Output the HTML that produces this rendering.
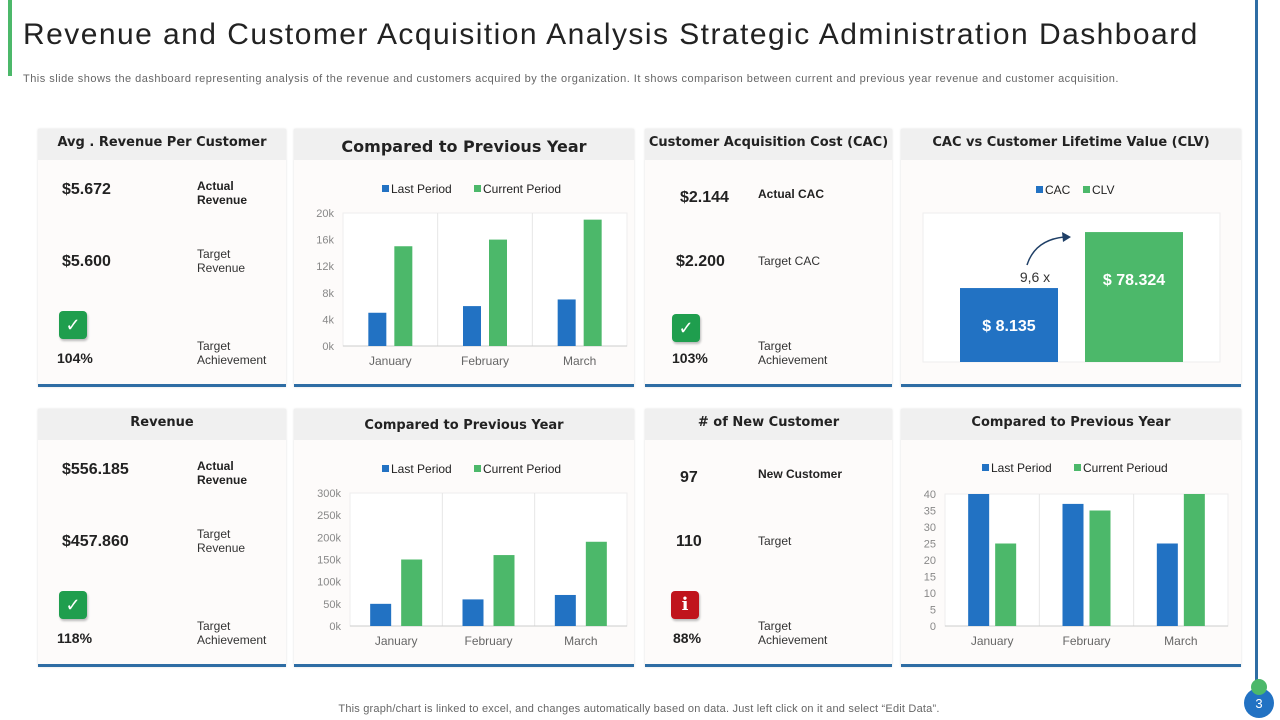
<!DOCTYPE html>
<html><head><meta charset="utf-8">
<style>
body{margin:0;width:1280px;height:720px;background:#fff;position:relative;overflow:hidden;font-family:"Liberation Sans",Arial,sans-serif;color:#222}
.abs{position:absolute}
.card{position:absolute;background:#fdfbfa;border-bottom:3px solid #2e6da4;box-shadow:0 0 2px #ddd}
.hdr{position:absolute;left:0;top:0;right:0;height:31px;background:#f0f0f0;font-family:"DejaVu Sans",sans-serif;font-weight:bold;font-size:13px;text-align:center;line-height:28px;color:#222}
.big{position:absolute;font-weight:bold;font-size:16px;color:#222}
.lbl{position:absolute;font-size:12px;line-height:14px;color:#333}
.lbl.b{font-weight:bold;color:#222}
.chk{position:absolute;width:28px;height:28px;border-radius:4px;background:#1f9e4e;color:#fff;font-size:18px;text-align:center;line-height:28px;box-shadow:1px 2px 2px #bbb}
svg text{font-family:"Liberation Sans",Arial,sans-serif}
</style></head><body>
<div class="abs" style="left:8px;top:0;width:4px;height:76px;background:#4cb86a"></div>
<div class="abs" style="left:23px;top:18px;font-size:30px;letter-spacing:1.45px;color:#222;white-space:nowrap">Revenue and Customer Acquisition Analysis Strategic Administration Dashboard</div>
<div class="abs" style="left:23px;top:73px;font-size:11px;letter-spacing:0.48px;color:#666;white-space:nowrap">This slide shows the dashboard representing analysis of the revenue and customers acquired by the organization. It shows comparison between current and previous year revenue and customer acquisition.</div>
<div class="abs" style="left:1255px;top:0;width:3px;height:690px;background:#2e6da4"></div>
<div class="abs" style="left:1244px;top:688px;width:30px;height:30px;border-radius:50%;background:#2272c3;color:#fff;font-size:13px;text-align:center;line-height:32px">3</div>
<div class="abs" style="left:1251px;top:679px;width:16px;height:16px;border-radius:50%;background:#4cb86a"></div>
<div class="abs" style="left:0;width:1278px;top:703px;text-align:center;font-size:11px;letter-spacing:0.2px;color:#666">This graph/chart is linked to excel,  and changes automatically based on data. Just left click on it and select “Edit Data”.</div>

<div class="card" style="left:38px;top:129px;width:248px;height:255px">
<div class="hdr">Avg . Revenue Per Customer</div>
<div class="big" style="left:24px;top:52px">$5.672</div>
<div class="lbl b" style="left:159px;top:50px">Actual<br>Revenue</div>
<div class="big" style="left:24px;top:124px">$5.600</div>
<div class="lbl" style="left:159px;top:118px">Target<br>Revenue</div>
<div class="chk" style="left:21px;top:182px">✓</div>
<div class="big" style="left:19px;top:221px;font-size:14px">104%</div>
<div class="lbl" style="left:159px;top:210px">Target<br>Achievement</div>
</div>

<div class="card" style="left:294px;top:129px;width:340px;height:255px">
<div class="hdr" style="font-size:16px;line-height:36px">Compared to Previous Year</div>
</div>

<div class="card" style="left:645px;top:129px;width:247px;height:255px">
<div class="hdr">Customer Acquisition  Cost (CAC)</div>
<div class="big" style="left:35px;top:60px">$2.144</div>
<div class="lbl b" style="left:113px;top:58px">Actual CAC</div>
<div class="big" style="left:31px;top:124px">$2.200</div>
<div class="lbl" style="left:113px;top:125px">Target CAC</div>
<div class="chk" style="left:27px;top:185px">✓</div>
<div class="big" style="left:27px;top:221px;font-size:14px">103%</div>
<div class="lbl" style="left:113px;top:210px">Target<br>Achievement</div>
</div>

<div class="card" style="left:901px;top:129px;width:340px;height:255px">
<div class="hdr">CAC vs Customer Lifetime  Value (CLV)</div>
</div>

<div class="card" style="left:38px;top:409px;width:248px;height:255px">
<div class="hdr">Revenue</div>
<div class="big" style="left:24px;top:52px">$556.185</div>
<div class="lbl b" style="left:159px;top:50px">Actual<br>Revenue</div>
<div class="big" style="left:24px;top:124px">$457.860</div>
<div class="lbl" style="left:159px;top:118px">Target<br>Revenue</div>
<div class="chk" style="left:21px;top:182px">✓</div>
<div class="big" style="left:19px;top:221px;font-size:14px">118%</div>
<div class="lbl" style="left:159px;top:210px">Target<br>Achievement</div>
</div>

<div class="card" style="left:294px;top:409px;width:340px;height:255px">
<div class="hdr" style="line-height:34px">Compared to Previous Year</div>
</div>

<div class="card" style="left:645px;top:409px;width:247px;height:255px">
<div class="hdr"># of New Customer</div>
<div class="big" style="left:35px;top:60px">97</div>
<div class="lbl b" style="left:113px;top:58px">New Customer</div>
<div class="big" style="left:31px;top:124px">110</div>
<div class="lbl" style="left:113px;top:125px">Target</div>
<div class="chk" style="left:26px;top:182px;background:#c0141c;font-weight:bold;font-family:'DejaVu Serif',serif">i</div>
<div class="big" style="left:28px;top:221px;font-size:14px">88%</div>
<div class="lbl" style="left:113px;top:210px">Target<br>Achievement</div>
</div>

<div class="card" style="left:901px;top:409px;width:340px;height:255px">
<div class="hdr">Compared to Previous Year</div>
</div>

<svg id="charts" class="abs" style="left:0;top:0" width="1280" height="720"></svg>

<script>
const months = ["January","February","March"];
const c1Last = [5000,6000,7000];
const c1Curr = [15000,16000,19000];
const c1Ticks = [0,4000,8000,12000,16000,20000];
const c1TickLabels = ["0k","4k","8k","12k","16k","20k"];
const c2Last = [50000,60000,70000];
const c2Curr = [150000,160000,190000];
const c2Ticks = [0,50000,100000,150000,200000,250000,300000];
const c2TickLabels = ["0k","50k","100k","150k","200k","250k","300k"];
const c3Last = [40,37,25];
const c3Curr = [25,35,40];
const c3Ticks = [0,5,10,15,20,25,30,35,40];
const c3TickLabels = ["0","5","10","15","20","25","30","35","40"];
const clvCats = ["CAC","CLV"];
const clvValues = [8135,78324];
const clvLabels = ["$ 8.135","$ 78.324"];
const clvMultiple = "9,6 x";

const NS="http://www.w3.org/2000/svg";
const svg=document.getElementById('charts');
function mk(tag,attrs,parent){const e=document.createElementNS(NS,tag);for(const k in attrs)e.setAttribute(k,attrs[k]);(parent||svg).appendChild(e);return e;}
const BLUE="#2272c3",GREEN="#4cb86a";

function legend(x,y,names,gap){
  let cx=x;
  names.forEach((n,i)=>{
    const r=mk('rect',{x:cx,y:y-8,width:7,height:7,fill:i?GREEN:BLUE});
    
    
    const t=mk('text',{x:cx+9,y:y,'font-size':12,fill:'#222'});
    t.textContent=n;
    
    
    cx+=gap[i];
  });
}

function barChart(o){
  const {x0,x1,yTop,yBot,max,ticks,tickLabels,last,curr,bw,off,name}=o;
  const g=mk('g',{});
  
  
  const ys=v=>yBot-(v/max)*(yBot-yTop);
  const band=(x1-x0)/months.length;
  const xs=i=>x0+band*(i+0.5);
  mk('rect',{x:x0,y:yTop,width:x1-x0,height:yBot-yTop,fill:'#fff',stroke:'#eee'},g);
  for(let i=1;i<months.length;i++) mk('line',{x1:x0+band*i,x2:x0+band*i,y1:yTop,y2:yBot,stroke:'#e6e6e6'},g);
  mk('line',{x1:x0,x2:x1,y1:yBot,y2:yBot,stroke:'#ccc'},g);
  ticks.forEach((t,i)=>{
    const tx=mk('text',{x:x0-9,y:ys(t)+4,'font-size':11,fill:'#888','text-anchor':'end'},g);
    tx.textContent=tickLabels[i];
    
    
  });
  months.forEach((m,i)=>{
    const c=xs(i);
    const b1=mk('rect',{x:c-off-bw,y:ys(last[i]),width:bw,height:yBot-ys(last[i]),fill:BLUE},g);
    
    
    const b2=mk('rect',{x:c+off,y:ys(curr[i]),width:bw,height:yBot-ys(curr[i]),fill:GREEN},g);
    
    
    const tl=mk('text',{x:c,y:yBot+19,'font-size':12,fill:'#666','text-anchor':'middle'},g);
    tl.textContent=m;
    
    
  });
}

barChart({x0:343,x1:627,yTop:213,yBot:346,max:20000,ticks:c1Ticks,tickLabels:c1TickLabels,last:c1Last,curr:c1Curr,bw:18,off:4,name:'compare-chart-1'});
legend(382,193,["Last Period","Current Period"],[92,0]);
barChart({x0:350,x1:627,yTop:493,yBot:626,max:300000,ticks:c2Ticks,tickLabels:c2TickLabels,last:c2Last,curr:c2Curr,bw:21,off:5,name:'compare-chart-2'});
legend(382,473,["Last Period","Current Period"],[92,0]);
barChart({x0:945,x1:1228,yTop:494,yBot:626,max:40,ticks:c3Ticks,tickLabels:c3TickLabels,last:c3Last,curr:c3Curr,bw:21,off:3,name:'compare-chart-3'});
legend(982,472,["Last Period","Current Perioud"],[92,0]);

(function(){
  const g=mk('g',{});
  
  
  const yTop=213,yBot=362,base=-84600,top=102240;
  const ys=v=>yBot-(v-base)/(top-base)*(yBot-yTop);
  mk('rect',{x:923,y:yTop,width:297,height:yBot-yTop,fill:'#fff',stroke:'#eee'},g);
  const xs=[960,1085];
  clvValues.forEach((v,i)=>{
    const r=mk('rect',{x:xs[i],y:ys(v),width:98,height:yBot-ys(v),fill:i?GREEN:BLUE},g);
    
    
    const t=mk('text',{x:xs[i]+49,y:ys(v)+(i?53:43),'font-size':16,'font-weight':'bold',fill:'#fff','text-anchor':'middle'},g);
    t.textContent=clvLabels[i];
    
    
  });
  const m=mk('text',{x:1035,y:ys(clvValues[0])-6,'font-size':14,fill:'#333','text-anchor':'middle'},g);
  m.textContent=clvMultiple;
  
  
  const a=mk('path',{d:'M1027 265 Q1035 240 1064 237',fill:'none',stroke:'#1f3f66','stroke-width':1.5},g);
  
  
  const h=mk('path',{d:'M1071 237 L1062 232 L1063 242 Z',fill:'#1f3f66'},g);
  
  
  legend(1036,194,clvCats,[47,0]);
})();
</script>
</body></html>
